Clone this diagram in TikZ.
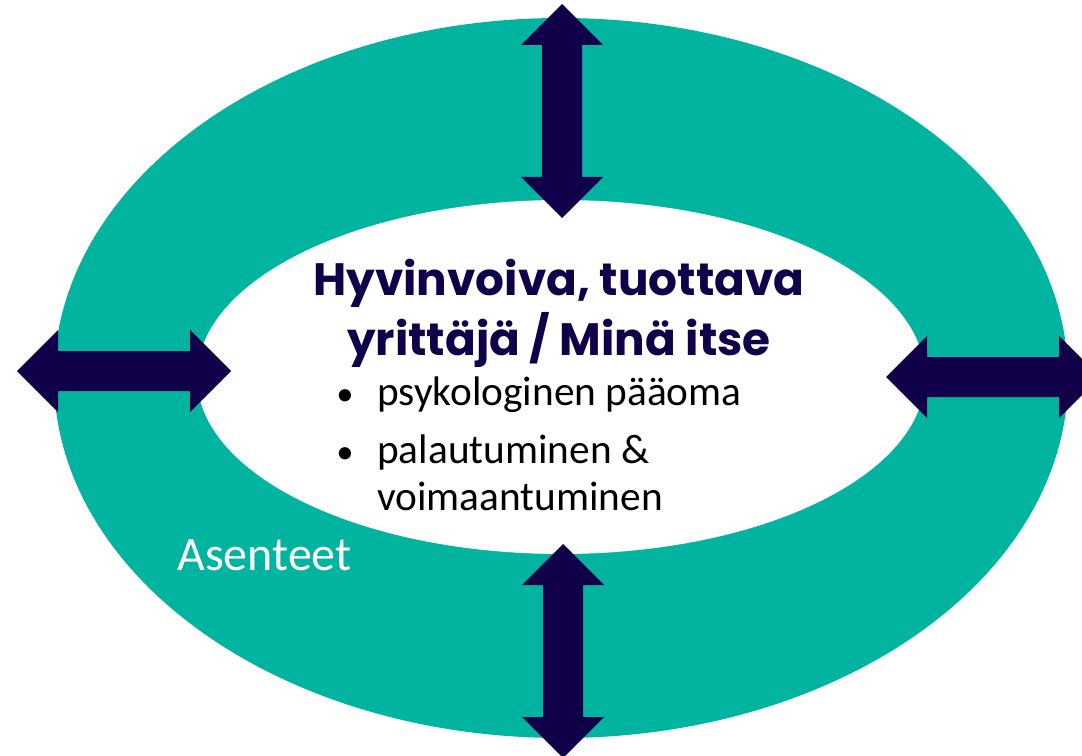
\documentclass[tikz,border=0pt]{standalone}
\usepackage{fontspec}
\setmainfont{Carlito}
\newfontfamily\titlefont{Poppins}
\definecolor{ringteal}{RGB}{0,180,160}
\definecolor{darknavy}{RGB}{16,0,74}
\tikzset{
  dblarrow/.pic={
    \fill[darknavy] (-107,0) -- (-66,-41) -- (-66,-20) -- (66,-20) -- (66,-41)
      -- (107,0) -- (66,41) -- (66,20) -- (-66,20) -- (-66,41) -- cycle;
  },
  titleline/.style={anchor=base, text=darknavy, inner sep=0pt,
    font=\titlefont\bfseries\fontsize{34}{40}\selectfont},
  bullettext/.style={anchor=base west, text=black, inner sep=0pt,
    font=\fontsize{31}{37}\selectfont},
}
\begin{document}
\begin{tikzpicture}[x=0.75pt, y=-0.75pt]
  \useasboundingbox (0,0) rectangle (1082,756);
  \clip (0,0) rectangle (1082,756);
  % ring
  \fill[ringteal] (561,378) ellipse [x radius=507, y radius=360];
  \fill[white] (561,377) ellipse [x radius=364, y radius=177];
  % arrows
  \pic[rotate=90] (up) at (562,111) {dblarrow};
  \pic[rotate=90] (down) at (563,651) {dblarrow};
  \pic (left) at (124,371) {dblarrow};
  \pic (right) at (993,377) {dblarrow};
  % texts
  \node[titleline] (title1) at (559,295) {Hyvinvoiva, tuottava};
  \node[titleline] (title2) at (559,355) {yrittäjä / Minä itse};
  \node[bullettext, font=\fontsize{26}{30}\selectfont] (dot1) at (336,405) {•};
  \node[bullettext] (item1) at (377,405) {psykologinen pääoma};
  \node[bullettext, font=\fontsize{26}{30}\selectfont] (dot2) at (336,463) {•};
  \node[bullettext] (item2) at (377,463) {palautuminen \&};
  \node[bullettext] (item3) at (377,510) {voimaantuminen};
  \node[anchor=base west, text=white, inner sep=0pt,
    font=\fontsize{36}{43}\selectfont] (attitudes) at (177,570) {Asenteet};
\end{tikzpicture}
\end{document}
